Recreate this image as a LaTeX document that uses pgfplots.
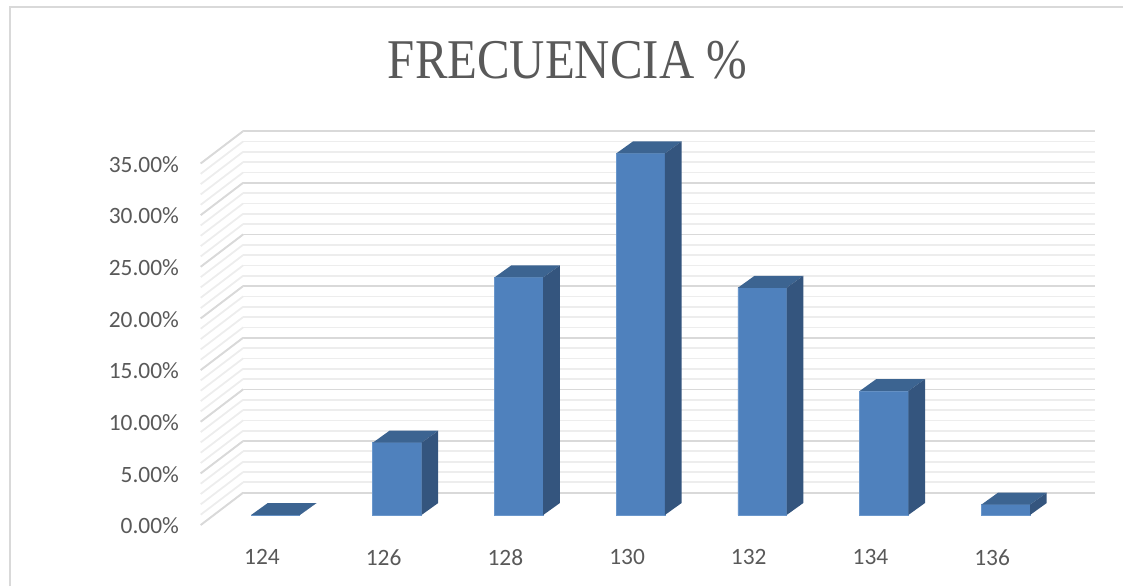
\documentclass[border=0pt]{standalone}
\usepackage{pgfplots}
\pgfplotsset{compat=1.18}
\usepackage{pgfplotstable}
\usepackage{graphicx}
\usepackage{fontspec}
\setmainfont{Liberation Serif}
\newfontfamily\calib{Carlito}
\definecolor{frontc}{HTML}{4F81BD}
\definecolor{edgec}{HTML}{6A97CC}
\definecolor{topc}{HTML}{3C6491}
\definecolor{sidec}{HTML}{34557E}
\definecolor{majg}{HTML}{D9D9D9}
\definecolor{ming}{HTML}{EDEDED}
\definecolor{txt}{HTML}{595959}

% 3D top and side faces of a column, drawn at each data point
\pgfdeclareplotmark{bar3d}{%
  \pgfmathsetmacro\hh{\barval*5.165}%
  \pgfpathmoveto{\pgfpoint{-12.175pt}{0pt}}%
  \pgfpathlineto{\pgfpoint{12.175pt}{0pt}}%
  \pgfpathlineto{\pgfpoint{20.525pt}{6pt}}%
  \pgfpathlineto{\pgfpoint{-3.825pt}{6pt}}%
  \pgfpathclose
  \pgfsetfillcolor{topc}\pgfusepath{fill}%
  \pgfpathmoveto{\pgfpoint{12.175pt}{0pt}}%
  \pgfpathlineto{\pgfpoint{20.525pt}{6pt}}%
  \pgfpathlineto{\pgfpoint{20.525pt}{6pt-\hh pt}}%
  \pgfpathlineto{\pgfpoint{12.175pt}{-\hh pt}}%
  \pgfpathclose
  \pgfsetfillcolor{sidec}\pgfusepath{fill}%
}

\pgfplotstableread{
x p
0 0
1 7
2 23
3 35
4 22
5 12
6 1
}\freqdata

\begin{document}
\begin{tikzpicture}
\useasboundingbox (0,0) rectangle (561.5pt,293pt);
\draw[majg, line width=1pt] (5pt,0) -- (5pt,289.5pt) -- (561.5pt,289.5pt);
\node[text=txt, font=\fontsize{24.4}{28}\selectfont, inner sep=0] at (283.75pt,262.85pt) {\scalebox{1}[1.15]{FRECUENCIA \%}};

% back wall
\begin{axis}[
  at={(121.55pt,46.65pt)}, anchor=south west,
  x=60.85pt, y=5.165pt,
  xmin=-0.5, xmax=6.5, ymin=0, ymax=35,
  enlargelimits=false, clip=false,
  axis line style={draw=none},
  tick style={draw=none},
  xtick=\empty,
  ytick={0,5,...,35}, yticklabels={},
  minor y tick num=4,
  ymajorgrids, yminorgrids,
  major grid style={majg, line width=0.9pt},
  minor grid style={ming, line width=0.9pt},
]
\pgfplotsinvokeforeach{0,1,...,35}{\draw[ming, line width=0.9pt] (axis cs:-0.5,#1) -- ++(-21.2pt,-16.15pt);}
\pgfplotsinvokeforeach{0,5,...,35}{\draw[majg, line width=0.9pt] (axis cs:-0.5,#1) -- ++(-21.2pt,-16.15pt);}
\end{axis}

% bar plane
\begin{axis}[
  at={(107.3pt,35.5pt)}, anchor=south west,
  x=60.85pt, y=5.165pt,
  xmin=-0.5, xmax=6.5, ymin=0, ymax=35,
  enlargelimits=false, clip=false,
  axis line style={draw=none},
  tick style={draw=none},
  xtick={0,...,6},
  xticklabels={124,126,128,130,132,134,136},
  ytick={0,5,...,35},
  yticklabels={0.00\%,5.00\%,10.00\%,15.00\%,20.00\%,25.00\%,30.00\%,35.00\%},
  ticklabel style={font=\calib\fontsize{11.7}{14}\selectfont, text=txt, inner sep=0pt},
  yticklabel style={anchor=east, xshift=-17.65pt, yshift=-5.5pt},
  xticklabel style={anchor=north, xshift=-6.75pt, yshift=-17pt},
]
\addplot[ybar, bar width=24.35pt, bar shift=0pt, fill=frontc, draw=edgec, line width=0.4pt] table[x=x,y=p]{\freqdata};
\addplot[only marks, mark=bar3d, visualization depends on={y \as \barval}] table[x=x,y=p]{\freqdata};
\end{axis}
\end{tikzpicture}
\end{document}
